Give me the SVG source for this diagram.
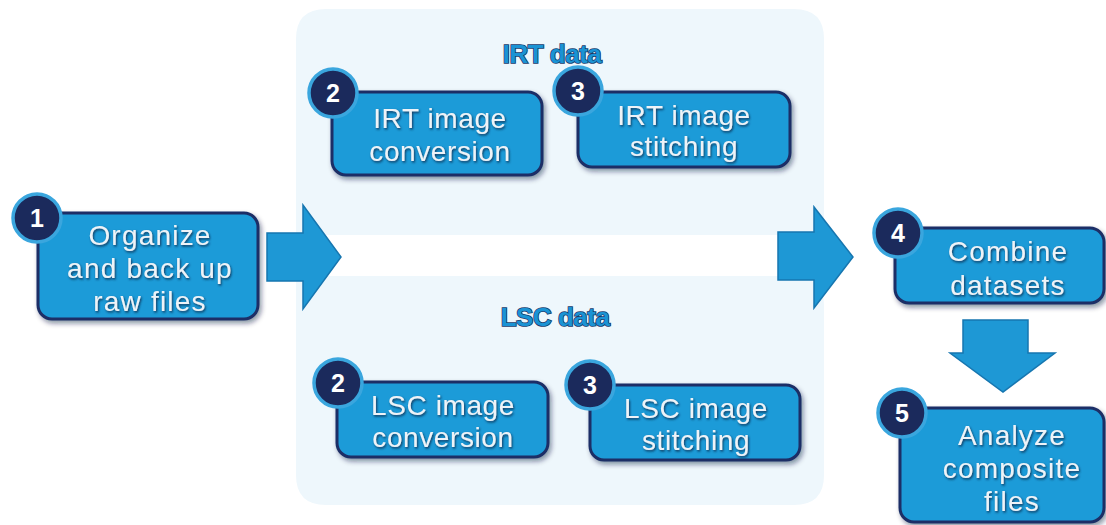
<svg xmlns="http://www.w3.org/2000/svg" width="1106" height="525" viewBox="0 0 1106 525">
  <defs>
    <filter id="boxShadow" x="-10%" y="-10%" width="125%" height="135%">
      <feDropShadow dx="2" dy="3" stdDeviation="2.5" flood-color="#0b1e3a" flood-opacity="0.45"/>
    </filter>
    <filter id="textShadow" x="-10%" y="-20%" width="120%" height="150%">
      <feDropShadow dx="1" dy="1.5" stdDeviation="0.8" flood-color="#0d2744" flood-opacity="0.85"/>
    </filter>
    <style>
      .panel { fill: #eef7fc; }
      .box { fill: #1c9bd8; stroke: #1b2f66; stroke-width: 3; filter: url(#boxShadow); }
      .badge { fill: #1b2a5c; stroke: #3aa6de; stroke-width: 3.5; }
      .num { font-family: "Liberation Sans", Arial, sans-serif; font-weight: bold; font-size: 25px; fill: #ffffff; text-anchor: middle; }
      .label { font-family: "Liberation Sans", Arial, sans-serif; font-size: 28px; fill: #eef3f8; text-anchor: middle; letter-spacing: 0.6px; filter: url(#textShadow); }
      .group-title { font-family: "Liberation Sans", Arial, sans-serif; font-weight: bold; font-size: 26px; fill: #1a93d4; stroke: #173a6a; stroke-width: 1.6; paint-order: stroke; text-anchor: middle; letter-spacing: -0.5px; }
      .arrow { fill: #1e98d5; stroke: #1676b0; stroke-width: 1.5; stroke-linejoin: miter; }
    </style>
  </defs>

  <!-- background panels for the two data streams -->
  <g id="panels">
    <path class="panel" d="M326,9 H794 Q824,9 824,39 V235 H296 V39 Q296,9 326,9 Z"/>
    <path class="panel" d="M296,276 H794 Q824,276 824,306 V475 Q824,505 794,505 H326 Q296,505 296,475 Z"/>
  </g>

  <g id="group-labels">
    <text class="group-title" x="552" y="63">IRT data</text>
    <text class="group-title" x="555" y="326">LSC data</text>
  </g>

  <!-- connectors: block arrows between stages -->
  <g id="connectors">
    <polygon class="arrow" points="267,233 303,233 303,205 341,257 303,309 303,281 267,281"/>
    <polygon class="arrow" points="778,232 814,232 814,207 853,257 814,308 814,280 778,280"/>
    <polygon class="arrow" points="963,320 1028,320 1028,353 1055,353 1003,392 950,353 963,353"/>
  </g>

  <g id="node-1">
    <rect class="box" x="38" y="213" width="220" height="106" rx="14"/>
    <circle class="badge" cx="37" cy="218" r="24"/>
    <text class="num" x="37" y="227">1</text>
    <text class="label" x="150" y="245" style="letter-spacing:1.2px">Organize</text>
    <text class="label" x="150" y="278" style="letter-spacing:1.2px">and back up</text>
    <text class="label" x="150" y="311" style="letter-spacing:1.2px">raw files</text>
  </g>

  <g id="node-irt-2">
    <rect class="box" x="332" y="92" width="210" height="83" rx="14"/>
    <circle class="badge" cx="333" cy="93" r="24"/>
    <text class="num" x="333" y="102">2</text>
    <text class="label" x="440" y="128">IRT image</text>
    <text class="label" x="440" y="161">conversion</text>
  </g>

  <g id="node-irt-3">
    <rect class="box" x="578" y="92" width="212" height="75" rx="14"/>
    <circle class="badge" cx="578" cy="91" r="24"/>
    <text class="num" x="578" y="100">3</text>
    <text class="label" x="684" y="125">IRT image</text>
    <text class="label" x="684" y="156">stitching</text>
  </g>

  <g id="node-lsc-2">
    <rect class="box" x="337" y="382" width="211" height="75" rx="14"/>
    <circle class="badge" cx="338" cy="383" r="24"/>
    <text class="num" x="338" y="392">2</text>
    <text class="label" x="443" y="415">LSC image</text>
    <text class="label" x="443" y="447">conversion</text>
  </g>

  <g id="node-lsc-3">
    <rect class="box" x="590" y="385" width="210" height="75" rx="14"/>
    <circle class="badge" cx="590" cy="385" r="24"/>
    <text class="num" x="590" y="394">3</text>
    <text class="label" x="696" y="418">LSC image</text>
    <text class="label" x="696" y="450">stitching</text>
  </g>

  <g id="node-4">
    <rect class="box" x="895" y="228" width="209" height="75" rx="14"/>
    <circle class="badge" cx="898" cy="233" r="24"/>
    <text class="num" x="898" y="242">4</text>
    <text class="label" x="1008" y="261" style="letter-spacing:1.2px">Combine</text>
    <text class="label" x="1008" y="295" style="letter-spacing:1.2px">datasets</text>
  </g>

  <g id="node-5">
    <rect class="box" x="900" y="408" width="204" height="114" rx="14"/>
    <circle class="badge" cx="902" cy="413" r="24"/>
    <text class="num" x="902" y="422">5</text>
    <text class="label" x="1012" y="445" style="letter-spacing:1.2px">Analyze</text>
    <text class="label" x="1012" y="478" style="letter-spacing:1.2px">composite</text>
    <text class="label" x="1012" y="511" style="letter-spacing:1.2px">files</text>
  </g>
</svg>
